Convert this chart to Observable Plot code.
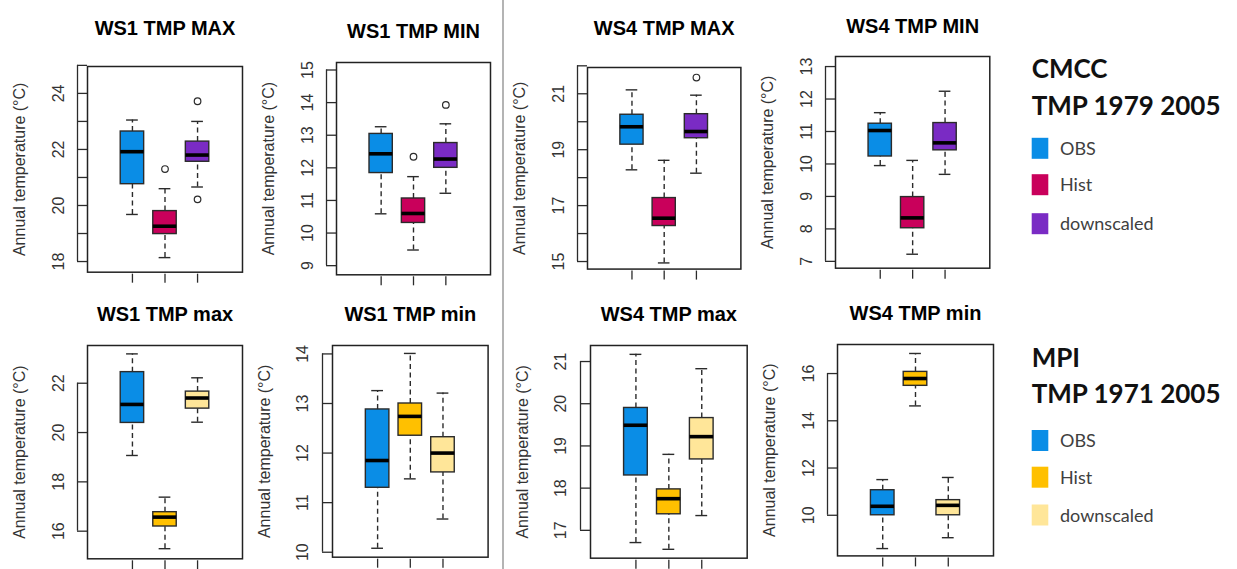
<!DOCTYPE html>
<html><head><meta charset="utf-8">
<script src="https://cdn.jsdelivr.net/npm/d3@7"></script>
<script src="https://cdn.jsdelivr.net/npm/@observablehq/plot@0.6"></script>
<style>
body{margin:0;background:#fff;}
#chart{position:relative;width:1237px;height:569px;overflow:hidden;font-family:"Liberation Sans",Arial,sans-serif;background:#fff;}
#chart svg.plotpanel{position:absolute;}
</style></head><body><div id="chart"></div>
<script>
// ---------- data ----------
const categories = ["OBS", "Hist", "downscaled"];
const cmccColors = ["#0a8de6", "#c9005b", "#7a2bc4"];
const mpiColors = ["#0a8de6", "#ffc000", "#ffe699"];
const panelTitles = ["WS1 TMP MAX", "WS1 TMP MIN", "WS4 TMP MAX", "WS4 TMP MIN",
                     "WS1 TMP max", "WS1 TMP min", "WS4 TMP max", "WS4 TMP min"];
const legendTitles = [["CMCC", "TMP 1979 2005"], ["MPI", "TMP 1971 2005"]];
const yLabel = "Annual temperature (°C)";

// box stats per category: [lower whisker, Q1, median, Q3, upper whisker]
const ws1MaxCmcc = [[19.68, 20.76, 21.92, 22.64, 23.05], [18.14, 18.98, 19.26, 19.80, 20.60], [20.66, 21.56, 21.80, 22.28, 23.00]];
const ws1MaxCmccOut = [[], [21.30], [23.72, 20.22]];
const ws1MinCmcc = [[10.59, 11.84, 12.43, 13.04, 13.26], [9.48, 10.31, 10.60, 11.06, 11.73], [11.22, 12.00, 12.27, 12.76, 13.35]];
const ws1MinCmccOut = [[], [12.34], [13.93]];
const ws4MaxCmcc = [[18.28, 19.18, 19.82, 20.25, 21.14], [14.95, 16.27, 16.55, 17.27, 18.62], [18.16, 19.41, 19.65, 20.27, 20.95]];
const ws4MaxCmccOut = [[], [], [21.58]];
const ws4MinCmcc = [[9.95, 10.23, 11.03, 11.24, 11.58], [7.22, 8.02, 8.34, 8.98, 10.11], [9.68, 10.42, 10.65, 11.26, 12.24]];
const ws4MinCmccOut = [[], [], []];
const ws1MaxMpi = [[19.07, 20.39, 21.14, 22.45, 23.19], [15.29, 16.19, 16.57, 16.77, 17.38], [20.42, 20.97, 21.40, 21.66, 22.22]];
const ws1MaxMpiOut = [[], [], []];
const ws1MinMpi = [[10.08, 11.30, 11.85, 12.88, 13.26], [11.48, 12.35, 12.74, 13.00, 14.01], [10.67, 11.61, 12.00, 12.32, 13.21]];
const ws1MinMpiOut = [[], [], []];
const ws4MaxMpi = [[16.71, 18.30, 19.49, 19.90, 21.17], [16.55, 17.38, 17.75, 17.97, 18.80], [17.35, 18.68, 19.22, 19.66, 20.83]];
const ws4MaxMpiOut = [[], [], []];
const ws4MinMpi = [[8.59, 10.00, 10.38, 11.06, 11.51], [14.63, 15.48, 15.79, 16.07, 16.85], [9.05, 10.00, 10.42, 10.64, 11.60]];
const ws4MinMpiOut = [[], [], []];

// y ticks and which of them carry labels
const ticksWs1MaxCmcc = [18, 19, 20, 21, 22, 23, 24, 25];   const labelsWs1MaxCmcc = [18, 20, 22, 24];
const ticksWs1MinCmcc = [9, 10, 11, 12, 13, 14, 15];       const labelsWs1MinCmcc = [9, 10, 11, 12, 13, 14, 15];
const ticksWs4MaxCmcc = [15, 16, 17, 18, 19, 20, 21, 22];   const labelsWs4MaxCmcc = [15, 17, 19, 21];
const ticksWs4MinCmcc = [7, 8, 9, 10, 11, 12, 13];         const labelsWs4MinCmcc = [7, 8, 9, 10, 11, 12, 13];
const ticksWs1MaxMpi = [16, 18, 20, 22];                  const labelsWs1MaxMpi = [16, 18, 20, 22];
const ticksWs1MinMpi = [10, 11, 12, 13, 14];              const labelsWs1MinMpi = [10, 11, 12, 13, 14];
const ticksWs4MaxMpi = [17, 18, 19, 20, 21];              const labelsWs4MaxMpi = [17, 18, 19, 20, 21];
const ticksWs4MinMpi = [10, 12, 14, 16];                  const labelsWs4MinMpi = [10, 12, 14, 16];

// ---------- layout (frame box in page pixels, y domain) ----------
const layout = [
  {L: 86.7, R: 241.7, T: 66, B: 271.7, y: [17.62, 24.96], titleY: 20},
  {L: 336, R: 490, T: 61.7, B: 274, y: [8.72, 15.23], titleY: 22.7},
  {L: 587.3, R: 740.7, T: 66.7, B: 268.3, y: [14.73, 21.94], titleY: 20},
  {L: 835, R: 989.3, T: 56, B: 267.7, y: [6.79, 13.31], titleY: 18.3},
  {L: 86.7, R: 241.7, T: 345, B: 558.3, y: [14.88, 23.53], titleY: 306.7},
  {L: 331.7, R: 487.3, T: 345, B: 556.7, y: [9.9, 14.17], titleY: 306.7},
  {L: 590, R: 746.7, T: 345, B: 557.7, y: [16.34, 21.38], titleY: 306.7},
  {L: 836.7, R: 992.7, T: 344.3, B: 555.7, y: [8.28, 17.23], titleY: 305.7}
];

const panels = [
  [ws1MaxCmcc, ws1MaxCmccOut, cmccColors, ticksWs1MaxCmcc, labelsWs1MaxCmcc],
  [ws1MinCmcc, ws1MinCmccOut, cmccColors, ticksWs1MinCmcc, labelsWs1MinCmcc],
  [ws4MaxCmcc, ws4MaxCmccOut, cmccColors, ticksWs4MaxCmcc, labelsWs4MaxCmcc],
  [ws4MinCmcc, ws4MinCmccOut, cmccColors, ticksWs4MinCmcc, labelsWs4MinCmcc],
  [ws1MaxMpi, ws1MaxMpiOut, mpiColors, ticksWs1MaxMpi, labelsWs1MaxMpi],
  [ws1MinMpi, ws1MinMpiOut, mpiColors, ticksWs1MinMpi, labelsWs1MinMpi],
  [ws4MaxMpi, ws4MaxMpiOut, mpiColors, ticksWs4MaxMpi, labelsWs4MaxMpi],
  [ws4MinMpi, ws4MinMpiOut, mpiColors, ticksWs4MinMpi, labelsWs4MinMpi]
];

const chart = document.getElementById("chart");
const mL = 85, mR = 10, mT = 60, mB = 20;
const hw = 2.38;      // half width of x domain around the middle box
const boxHalf = 0.36, capHalf = 0.18;
const ink = "#2b2b2b";

panels.forEach(([stats, outl, colors, ticks, labeled], idx) => {
  const lay = layout[idx];
  const rows = stats.map((s, i) => ({cat: categories[i], i: i + 1, lo: s[0], q1: s[1], med: s[2], q3: s[3], hi: s[4], color: colors[i]}));
  const outs = outl.flatMap((arr, i) => arr.map(v => ({i: i + 1, v})));
  const w = lay.R - lay.L, h = lay.B - lay.T;
  const svg = Plot.plot({
    width: w + mL + mR, height: h + mT + mB,
    marginLeft: mL, marginRight: mR, marginTop: mT, marginBottom: mB,
    x: {domain: [2 - hw, 2 + hw], axis: null},
    y: {domain: lay.y, axis: null},
    color: {type: "identity"},
    style: {fontFamily: "'Liberation Sans', Arial, sans-serif", fontSize: "16px", color: "#333", background: "transparent", overflow: "visible"},
    marks: [
      Plot.ruleX(rows, {x: "i", y1: "q3", y2: "hi", stroke: ink, strokeWidth: 1.4, strokeDasharray: "5,3.5"}),
      Plot.ruleX(rows, {x: "i", y1: "lo", y2: "q1", stroke: ink, strokeWidth: 1.4, strokeDasharray: "5,3.5"}),
      Plot.ruleY(rows, {y: "hi", x1: d => d.i - capHalf, x2: d => d.i + capHalf, stroke: ink, strokeWidth: 1.4}),
      Plot.ruleY(rows, {y: "lo", x1: d => d.i - capHalf, x2: d => d.i + capHalf, stroke: ink, strokeWidth: 1.4}),
      Plot.rect(rows, {x1: d => d.i - boxHalf, x2: d => d.i + boxHalf, y1: "q1", y2: "q3", fill: "color", stroke: ink, strokeWidth: 1.4}),
      Plot.ruleY(rows, {y: "med", x1: d => d.i - boxHalf, x2: d => d.i + boxHalf, stroke: "#000", strokeWidth: 3.6}),
      Plot.dot(outs, {x: "i", y: "v", r: 3.3, stroke: ink, strokeWidth: 1.2, fill: "none"}),
      Plot.frame({stroke: "#222", strokeWidth: 1.5}),
      Plot.axisX({ticks: [1, 2, 3], tickFormat: () => "", tickSize: 9, dy: 2, label: null, stroke: ink, strokeWidth: 1.3}),
      Plot.axisY({ticks, tickFormat: d => labeled.includes(d) ? String(d) : "", tickSize: 10, tickPadding: 14,
                  tickRotate: -90, stroke: ink, strokeWidth: 1.3, fill: "#333", fontSize: 16,
                  label: yLabel, labelAnchor: "center", labelOffset: 74, labelArrow: "none"}),
      Plot.ruleX([2 - hw], {y1: d3.min(ticks), y2: d3.max(ticks), dx: -10, stroke: ink, strokeWidth: 1.3}),
      Plot.text([panelTitles[idx]], {frameAnchor: "top", dy: lay.titleY - lay.T, fontSize: 20, fontWeight: "bold", fill: "#000"})
    ]
  });
  svg.classList.add("plotpanel");
  svg.style.left = (lay.L - mL) + "px";
  svg.style.top = (lay.T - mT) + "px";
  chart.appendChild(svg);
});

// separator line
const sep = document.createElement("div");
sep.style.cssText = "position:absolute;left:502px;top:0;width:2px;height:569px;background:#b4b4b4;";
chart.appendChild(sep);

// legends
const lg = d3.select(chart).append("svg")
  .attr("width", 237).attr("height", 569)
  .style("position", "absolute").style("left", "1000px").style("top", "0px");
const legendSpecs = [
  {colors: cmccColors, titleBase: [78, 114.5], items: [148.3, 184.7, 223.7]},
  {colors: mpiColors, titleBase: [366.7, 403.3], items: [440.5, 477.2, 515]}
];
legendSpecs.forEach((spec, k) => {
  legendTitles[k].forEach((t, j) => {
    lg.append("text").attr("x", 31.7).attr("y", spec.titleBase[j]).text(t)
      .attr("font-family", "Lato, 'Open Sans', sans-serif").attr("font-weight", "bold")
      .attr("font-size", 26).attr("fill", "#111");
  });
  categories.forEach((c, i) => {
    const cy = spec.items[i];
    lg.append("rect").attr("x", 31.7).attr("y", cy - 10.5).attr("width", 16.6).attr("height", 21).attr("fill", spec.colors[i]);
    lg.append("text").attr("x", 60).attr("y", cy + 6.5).text(c)
      .attr("font-family", "Lato, 'Open Sans', sans-serif").attr("font-size", 18).attr("fill", "#404040");
  });
});
</script></body></html>
